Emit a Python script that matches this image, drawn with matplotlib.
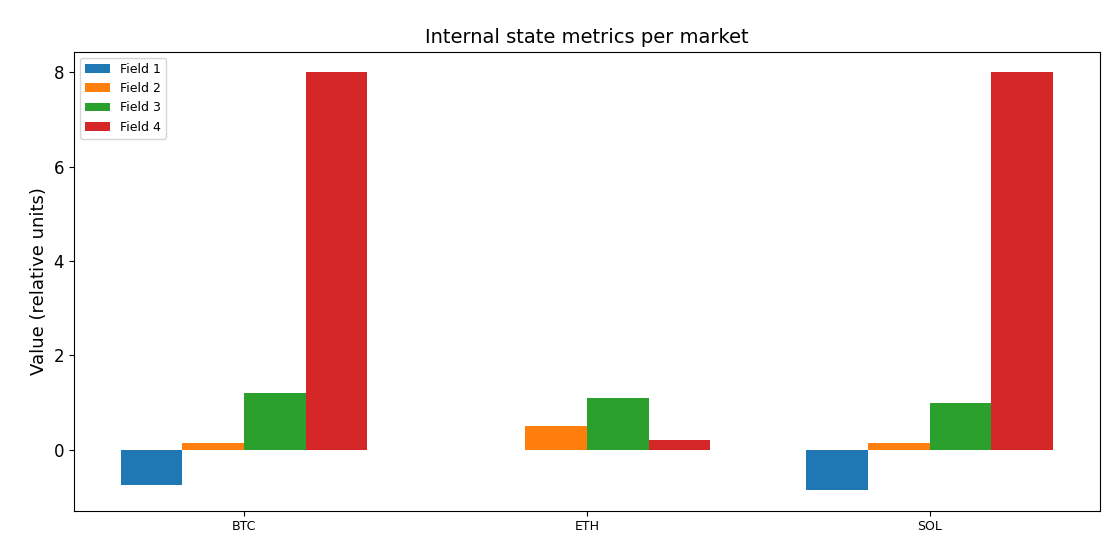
import matplotlib
matplotlib.use("Agg")
import matplotlib.pyplot as plt
import numpy as np

markets = ["BTC", "ETH", "SOL"]
field1 = [-0.74, 0.0, -0.85]
field2 = [0.15, 0.5, 0.15]
field3 = [1.2, 1.1, 1.0]
field4 = [8.0, 0.2, 8.0]
series = [("Field 1", field1), ("Field 2", field2), ("Field 3", field3), ("Field 4", field4)]

fig, ax = plt.subplots(figsize=(11.2, 5.6), dpi=100)
x = np.arange(len(markets))
w = 0.18
for i, (name, vals) in enumerate(series):
    ax.bar(x + (i - 1.5) * w, vals, w, label=name)
ax.set_xticks(x)
ax.set_xticklabels(markets, fontsize=9)
ax.tick_params(axis="y", labelsize=12)
ax.set_ylabel("Value (relative units)", fontsize=13)
ax.set_title("Internal state metrics per market", fontsize=14)
ax.legend(loc="upper left", fontsize=9)
fig.subplots_adjust(left=0.066, right=0.982, top=0.908, bottom=0.088)
fig.savefig("out.png")
